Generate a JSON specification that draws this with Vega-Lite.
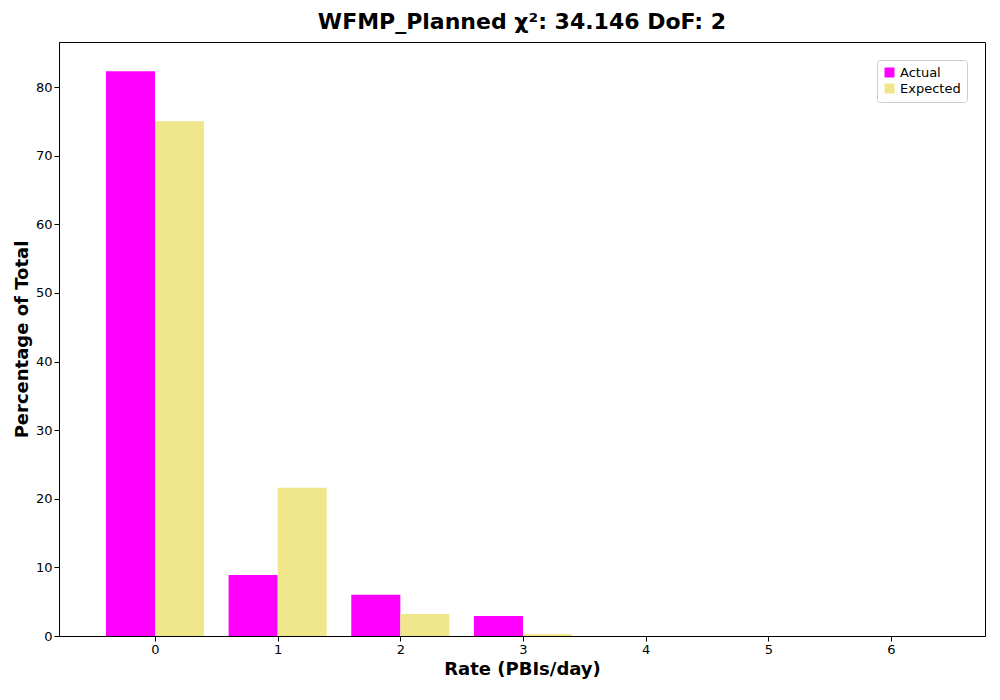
{
  "$schema": "https://vega.github.io/schema/vega-lite/v6.json",
  "width": 926,
  "height": 594,
  "padding": {"left": 59, "top": 42, "right": 15, "bottom": 64},
  "autosize": "none",
  "title": {"text": "WFMP_Planned χ²: 34.146 DoF: 2", "fontSize": 22, "font": "DejaVu Sans", "fontWeight": "bold", "offset": 8},
  "data": {
    "values": [
      {"rate": 0, "series": "Actual", "pct": 82.3},
      {"rate": 0, "series": "Expected", "pct": 75.0},
      {"rate": 1, "series": "Actual", "pct": 8.9},
      {"rate": 1, "series": "Expected", "pct": 21.6},
      {"rate": 2, "series": "Actual", "pct": 6.0},
      {"rate": 2, "series": "Expected", "pct": 3.2},
      {"rate": 3, "series": "Actual", "pct": 2.9},
      {"rate": 3, "series": "Expected", "pct": 0.3},
      {"rate": 4, "series": "Actual", "pct": 0},
      {"rate": 4, "series": "Expected", "pct": 0},
      {"rate": 5, "series": "Actual", "pct": 0},
      {"rate": 5, "series": "Expected", "pct": 0},
      {"rate": 6, "series": "Actual", "pct": 0},
      {"rate": 6, "series": "Expected", "pct": 0}
    ]
  },
  "transform": [
    {"calculate": "datum.series == 'Actual' ? datum.rate - 0.4 : datum.rate", "as": "x0"},
    {"calculate": "datum.x0 + 0.4", "as": "x1"}
  ],
  "mark": {"type": "bar", "orient": "vertical"},
  "encoding": {
    "x": {"field": "x0", "type": "quantitative", "scale": {"domain": [-0.742, 6.726], "nice": false, "zero": false},
      "axis": {"values": [0, 1, 2, 3, 4, 5, 6], "format": "d", "grid": false, "title": "Rate (PBIs/day)"}},
    "x2": {"field": "x1"},
    "y": {"field": "pct", "type": "quantitative", "stack": null, "scale": {"domain": [0, 86.56], "nice": false},
      "axis": {"values": [0, 10, 20, 30, 40, 50, 60, 70, 80], "grid": false, "title": "Percentage of Total"}},
    "y2": {"datum": 0},
    "color": {"field": "series", "type": "nominal", "scale": {"domain": ["Actual", "Expected"], "range": ["#FF00FF", "#F0E68C"]},
      "legend": {"title": null, "orient": "top-right", "symbolType": "square", "labelFontSize": 13, "padding": 6, "strokeColor": "#cccccc", "fillColor": "white", "cornerRadius": 3}}
  },
  "config": {
    "view": {"stroke": "black"},
    "axis": {"labelFont": "DejaVu Sans", "labelFontSize": 13, "labelColor": "black", "tickColor": "black", "domainColor": "black", "titleFont": "DejaVu Sans", "titleFontSize": 18, "titleFontWeight": "bold", "titleColor": "black"},
    "legend": {"labelFont": "DejaVu Sans"}
  }
}
